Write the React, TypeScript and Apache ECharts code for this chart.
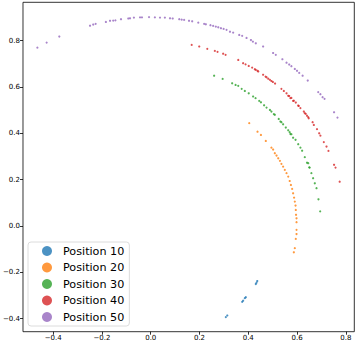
import React, { useEffect, useRef } from "react";
import * as echarts from "echarts";

const seriesNames = ["Position 10", "Position 20", "Position 30", "Position 40", "Position 50"];
const colors = ["#1f77b4", "#ff7f0e", "#2ca02c", "#d62728", "#9467bd"];

const xTicks = [-0.4, -0.2, 0.0, 0.2, 0.4, 0.6, 0.8];
const yTicks = [-0.4, -0.2, 0.0, 0.2, 0.4, 0.6, 0.8];

const pos10: number[][] = [
  [0.434, -0.245], [0.437, -0.238], [0.431, -0.251],
  [0.386, -0.312], [0.379, -0.323], [0.39, -0.308], [0.375, -0.328],
  [0.314, -0.387], [0.308, -0.394],
];

const pos20: number[][] = [
  [0.404, 0.444], [0.438, 0.407], [0.452, 0.393], [0.472, 0.367], [0.495, 0.338],
  [0.502, 0.33], [0.509, 0.314], [0.516, 0.304], [0.523, 0.292], [0.53, 0.281],
  [0.536, 0.268], [0.543, 0.256], [0.55, 0.242], [0.557, 0.228], [0.564, 0.213],
  [0.57, 0.194], [0.575, 0.177], [0.58, 0.16], [0.584, 0.141], [0.588, 0.122],
  [0.591, 0.105], [0.594, 0.088], [0.595, 0.069], [0.596, 0.048], [0.598, 0.033],
  [0.598, 0.016], [0.598, -0.017], [0.598, -0.035], [0.595, -0.056], [0.591, -0.096],
  [0.587, -0.114],
];

const pos30: number[][] = [
  [0.26, 0.649], [0.295, 0.635], [0.334, 0.616], [0.348, 0.609], [0.359, 0.605],
  [0.373, 0.592], [0.386, 0.583], [0.402, 0.573], [0.42, 0.559], [0.43, 0.552],
  [0.445, 0.54], [0.452, 0.534], [0.465, 0.521], [0.475, 0.511], [0.489, 0.501],
  [0.495, 0.494], [0.505, 0.483], [0.509, 0.48], [0.525, 0.462], [0.532, 0.451],
  [0.536, 0.448], [0.543, 0.439], [0.554, 0.425], [0.564, 0.413], [0.57, 0.405],
  [0.573, 0.397], [0.577, 0.396], [0.584, 0.381], [0.594, 0.372], [0.605, 0.353],
  [0.614, 0.338], [0.621, 0.325], [0.632, 0.297], [0.641, 0.273], [0.646, 0.271],
  [0.65, 0.253], [0.652, 0.252], [0.659, 0.228], [0.666, 0.206], [0.673, 0.184],
  [0.68, 0.163], [0.688, 0.115], [0.695, 0.063],
];

const pos40: number[][] = [
  [0.168, 0.782], [0.199, 0.775], [0.232, 0.765], [0.263, 0.756], [0.274, 0.752],
  [0.297, 0.744], [0.307, 0.739], [0.359, 0.717], [0.379, 0.703], [0.389, 0.698],
  [0.402, 0.691], [0.416, 0.684], [0.427, 0.677], [0.431, 0.674], [0.438, 0.67],
  [0.441, 0.667], [0.461, 0.653], [0.471, 0.645], [0.475, 0.642], [0.482, 0.636],
  [0.489, 0.631], [0.495, 0.626], [0.501, 0.622], [0.51, 0.615], [0.536, 0.592],
  [0.546, 0.583], [0.557, 0.573], [0.564, 0.562], [0.568, 0.561], [0.573, 0.552],
  [0.577, 0.553], [0.584, 0.54], [0.587, 0.541], [0.595, 0.533], [0.605, 0.52],
  [0.607, 0.518], [0.614, 0.509], [0.628, 0.494], [0.632, 0.487], [0.636, 0.484],
  [0.641, 0.476], [0.646, 0.47], [0.648, 0.465], [0.664, 0.448], [0.669, 0.436],
  [0.682, 0.418], [0.691, 0.4], [0.696, 0.39], [0.71, 0.362], [0.721, 0.343],
  [0.729, 0.324], [0.752, 0.264], [0.758, 0.252], [0.775, 0.191],
];

const pos50: number[][] = [
  [-0.465, 0.77], [-0.427, 0.792], [-0.375, 0.818], [-0.249, 0.865], [-0.236, 0.87],
  [-0.226, 0.873], [-0.184, 0.881], [-0.167, 0.886], [-0.154, 0.887], [-0.145, 0.888],
  [-0.122, 0.893], [-0.092, 0.896], [-0.085, 0.897], [-0.069, 0.9], [-0.044, 0.901],
  [-0.036, 0.901], [-0.007, 0.902], [0.017, 0.901], [0.038, 0.9], [0.058, 0.9],
  [0.079, 0.897], [0.09, 0.896], [0.117, 0.893], [0.127, 0.891], [0.137, 0.89],
  [0.157, 0.886], [0.17, 0.884], [0.195, 0.878], [0.219, 0.873], [0.226, 0.871],
  [0.245, 0.867], [0.256, 0.864], [0.267, 0.861], [0.277, 0.858], [0.288, 0.854],
  [0.299, 0.851], [0.311, 0.847], [0.325, 0.839], [0.338, 0.835], [0.363, 0.825],
  [0.375, 0.821], [0.393, 0.812], [0.411, 0.803], [0.419, 0.796], [0.431, 0.789],
  [0.461, 0.775], [0.502, 0.747], [0.513, 0.739], [0.54, 0.72], [0.557, 0.705],
  [0.568, 0.697], [0.577, 0.69], [0.591, 0.678], [0.6, 0.67], [0.609, 0.661],
  [0.623, 0.649], [0.644, 0.628], [0.687, 0.578], [0.696, 0.569], [0.705, 0.556],
  [0.713, 0.549], [0.752, 0.491], [0.766, 0.468],
];

const allData = [pos10, pos20, pos30, pos40, pos50];

const fmt = (v: number) => {
  const s = Math.abs(v).toFixed(1);
  return v < -1e-9 ? "\u2212" + s : s;
};

export default function App() {
  const ref = useRef<HTMLDivElement>(null);
  useEffect(() => {
    if (!ref.current) return;
    const chart = echarts.init(ref.current, undefined, { renderer: "svg" });
    const axisCommon = {
      type: "value" as const,
      splitLine: { show: false },
      axisLine: { show: false, onZero: false },
      axisTick: { show: true, length: 3, lineStyle: { color: "#000", width: 0.8 } },
      axisLabel: {
        fontSize: 7,
        fontFamily: "DejaVu Sans",
        color: "#000",
        margin: 3,
        formatter: fmt,
      },
    };
    chart.setOption({
      animation: false,
      backgroundColor: "#fff",
      grid: {
        left: 22.7,
        right: 2.7,
        top: 2.3,
        bottom: 13.3,
        show: true,
        borderColor: "#000",
        borderWidth: 0.8,
        containLabel: false,
      },
      xAxis: {
        ...axisCommon,
        min: -0.524,
        max: 0.835,
        axisTick: { ...axisCommon.axisTick, customValues: xTicks },
        axisLabel: { ...axisCommon.axisLabel, customValues: xTicks },
      },
      yAxis: {
        ...axisCommon,
        min: -0.457,
        max: 0.966,
        axisTick: { ...axisCommon.axisTick, customValues: yTicks },
        axisLabel: { ...axisCommon.axisLabel, customValues: yTicks },
      },
      legend: {
        orient: "vertical",
        left: 28,
        top: 242,
        backgroundColor: "rgba(255,255,255,0.8)",
        borderColor: "#d3d3d3",
        borderWidth: 0.8,
        borderRadius: 3,
        padding: [3, 5, 3, 14],
        itemWidth: 22,
        itemHeight: 10,
        itemGap: 4.5,
        icon: "circle",
        textStyle: { fontSize: 11.2, fontFamily: "DejaVu Sans", color: "#000", lineHeight: 12 },
        data: seriesNames,
      },
      series: seriesNames.map((name, i) => ({
        name,
        type: "scatter",
        data: allData[i],
        symbolSize: 2.2,
        itemStyle: { color: colors[i] },
      })),
    });
    return () => chart.dispose();
  }, []);
  return (
    <div
      ref={ref}
      style={{ position: "fixed", left: 0, top: 0, width: 357, height: 345 }}
    />
  );
}
